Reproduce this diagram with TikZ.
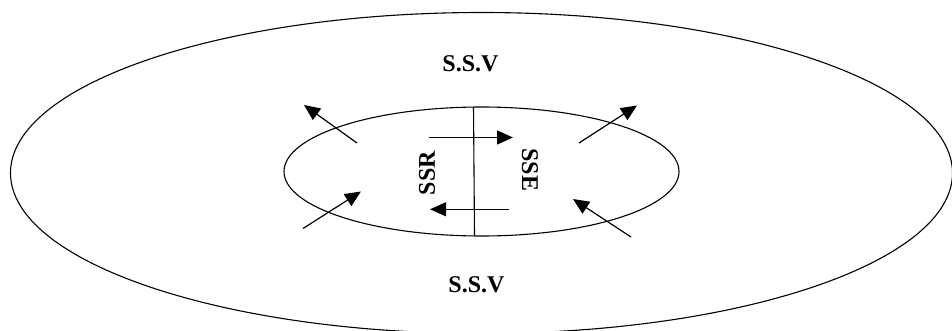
\documentclass[tikz,border=0pt]{standalone}
\usepackage{fontspec}
\setmainfont{Liberation Serif}
\usetikzlibrary{arrows.meta}
\begin{document}
\begin{tikzpicture}[x=1pt,y=-1pt,
  ring/.style={line width=1.1pt},
  flow/.style={line width=1.2pt,-{Triangle[length=16pt,width=14pt]}},
  lbl/.style={font=\fontsize{24}{24}\selectfont\bfseries,inner sep=0pt}]
\useasboundingbox (0,0) rectangle (952,331);
\begin{scope}
\clip (0,0) rectangle (952,331);
\coordinate (outc) at (481.5,173);
\draw[ring] (outc) ellipse [x radius=471, y radius=160.5];
\end{scope}
\coordinate (inc) at (481.5,171.5);
\draw[ring] (inc) ellipse [x radius=197.5, y radius=64.5];
% dividing line
\coordinate (lt) at (473.5,107);
\coordinate (lb) at (474.5,235.5);
\draw[ring] (lt) -- (lb);
% labels
\node[lbl] (ssvt) at (470.5,64) {S.S.V};
\node[lbl] (ssvb) at (476.5,285) {S.S.V};
\node[lbl,rotate=90] (ssr) at (427,173) {SSR};
\node[lbl,rotate=-90] (sse) at (530,170) {SSE};
% horizontal arrows
\coordinate (h1s) at (429,137.5);
\coordinate (h1e) at (513,137.5);
\coordinate (h2s) at (509,209.3);
\coordinate (h2e) at (430,209.3);
\draw[flow] (h1s) -- (h1e);
\draw[flow] (h2s) -- (h2e);
% diagonal arrows
\coordinate (a1s) at (357,143);
\coordinate (a1e) at (304,105);
\coordinate (a2s) at (579,143);
\coordinate (a2e) at (637,105.5);
\coordinate (a3s) at (303,228.5);
\coordinate (a3e) at (361,191.5);
\coordinate (a4s) at (631,237);
\coordinate (a4e) at (573,199);
\draw[flow] (a1s) -- (a1e);
\draw[flow] (a2s) -- (a2e);
\draw[flow] (a3s) -- (a3e);
\draw[flow] (a4s) -- (a4e);
\end{tikzpicture}
\end{document}
